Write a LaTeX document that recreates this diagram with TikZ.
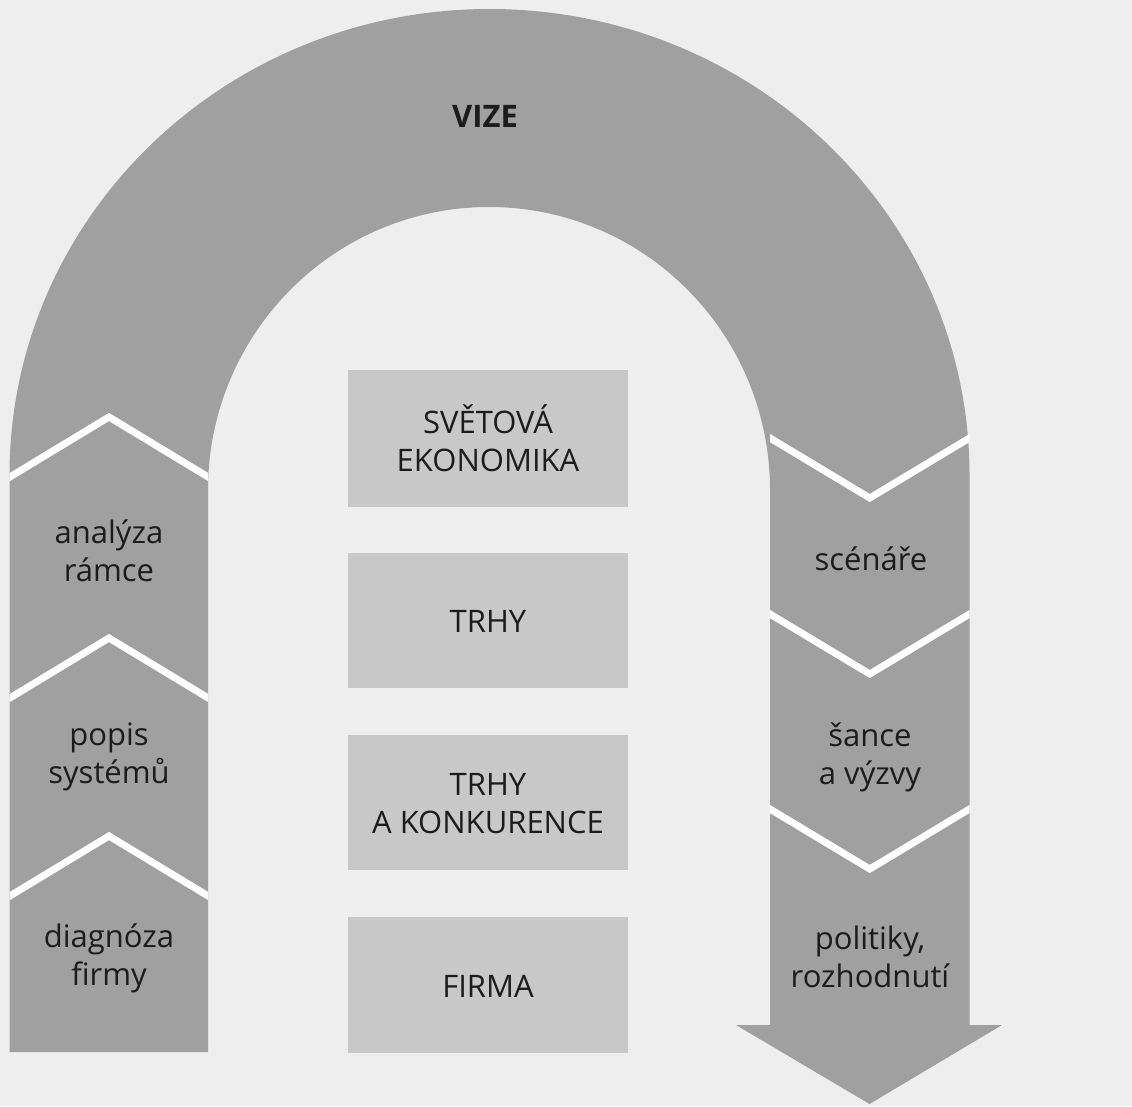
\documentclass[tikz,border=0pt]{standalone}
\usepackage{fontspec}
\setmainfont{Open Sans}
\definecolor{bgcol}{RGB}{238,238,238}
\definecolor{archgray}{RGB}{160,160,160}
\definecolor{boxgray}{RGB}{200,200,200}
\definecolor{txt}{RGB}{28,28,28}
\newcommand{\lbl}[1]{\begin{tabular}{@{}c@{}}#1\end{tabular}}
\begin{document}
\begin{tikzpicture}[x=1pt,y=-1pt,
  lab/.style={text=txt, font=\fontsize{31}{38}\selectfont, inner sep=0pt},
  boxnode/.style={fill=boxgray, minimum width=280pt, inner sep=0pt},
  chev/.style={draw=white, line width=7pt}]
\fill[bgcol] (0,0) rectangle (1132,1106);
\useasboundingbox (0,0) rectangle (1132,1106);
% arch with columns and arrow
\fill[archgray] (9.5,1052) -- (9.5,475)
  arc[start angle=180,end angle=360,x radius=480,y radius=466]
  -- (969.5,1025) -- (1002,1025) -- (869.5,1104) -- (736,1025) -- (770,1025)
  -- (770,490)
  arc[start angle=360,end angle=180,x radius=281,y radius=283]
  -- (208,1052) -- cycle;
% chevrons on the left column (pointing up)
\begin{scope}
  \clip (9.5,380) rectangle (208,1060);
  \draw[chev] (-10,489) -- (109,417) -- (228,489);
  \draw[chev] (-10,710) -- (109,638) -- (228,710);
  \draw[chev] (-10,908) -- (109,836) -- (228,908);
\end{scope}
% chevrons on the right column (pointing down)
\begin{scope}
  \clip (770,380) rectangle (969.5,1030);
  \draw[chev] (750,426) -- (869.75,498) -- (989.5,426);
  \draw[chev] (750,602) -- (869.75,674) -- (989.5,602);
  \draw[chev] (750,797) -- (869.75,869) -- (989.5,797);
\end{scope}
% central boxes
\node[boxnode, minimum height=137pt] (b1) at (488,438.5) {};
\node[boxnode, minimum height=135pt] (b2) at (488,620.5) {};
\node[boxnode, minimum height=135pt] (b3) at (488,802.5) {};
\node[boxnode, minimum height=136pt] (b4) at (488,985) {};
% labels
\node[lab, font=\fontsize{31}{38}\selectfont\bfseries] (vize) at (485,119.4) {\lbl{VIZE}};
\node[lab] (t1) at (488,443.9) {\lbl{SVĚTOVÁ\\EKONOMIKA}};
\node[lab] (t2) at (488,624.4) {\lbl{TRHY}};
\node[lab] (t3) at (488,806.9) {\lbl{TRHY\\A KONKURENCE}};
\node[lab] (t4) at (488,989.4) {\lbl{FIRMA}};
\node[lab] (l1) at (109,554.9) {\lbl{analýza\\rámce}};
\node[lab] (l2) at (109,756.4) {\lbl{popis\\systémů}};
\node[lab] (l3) at (109,958.9) {\lbl{diagnóza\\firmy}};
\node[lab] (r1) at (871,562.4) {\lbl{scénáře}};
\node[lab] (r2) at (870,757.9) {\lbl{šance\\a výzvy}};
\node[lab] (r3) at (870,960.4) {\lbl{politiky,\\rozhodnutí}};
\end{tikzpicture}
\end{document}
